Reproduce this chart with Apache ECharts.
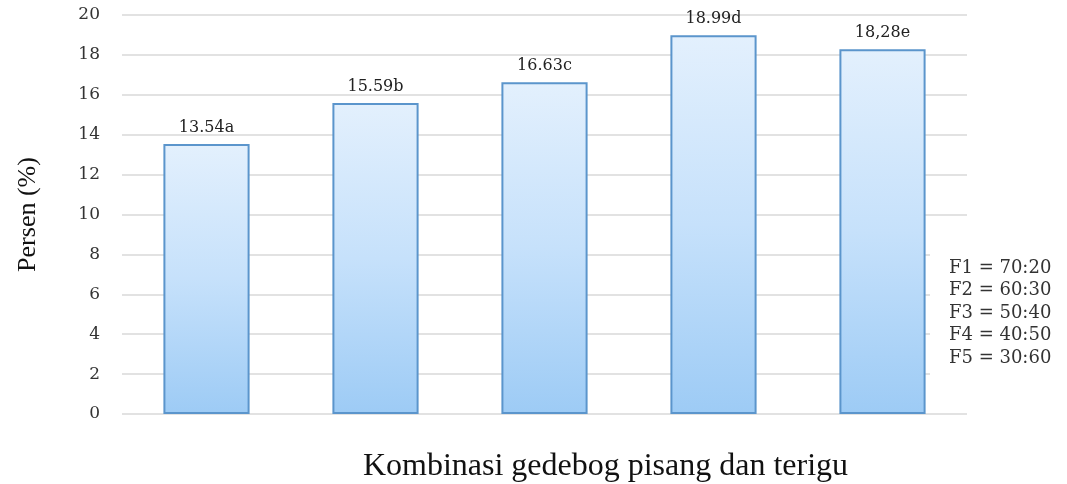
<!DOCTYPE html>
<html>
<head>
<meta charset="utf-8">
<script src="https://cdn.jsdelivr.net/npm/echarts@6/dist/echarts.min.js"></script>
<style>
  html, body { margin: 0; padding: 0; background: #ffffff; }
  #chart { width: 1067px; height: 484px; }
</style>
</head>
<body>
<div id="chart"></div>
<script>
// Formula codes (F1..F5) and measured percentages
const categories = ['F1', 'F2', 'F3', 'F4', 'F5'];
const values = [13.54, 15.59, 16.63, 18.99, 18.28];
const valueLabels = ['13.54a', '15.59b', '16.63c', '18.99d', '18,28e'];
const legendLines = ['F1 = 70:20', 'F2 = 60:30', 'F3 = 50:40', 'F4 = 40:50', 'F5 = 30:60'];
const yTicks = { min: 0, max: 20, interval: 2 };

const serif = '"DejaVu Serif", "Liberation Serif", serif';
const titleSerif = '"Liberation Serif", "DejaVu Serif", serif';

const chart = echarts.init(document.getElementById('chart'));
chart.setOption({
  animation: false,
  backgroundColor: '#ffffff',
  grid: { left: 122, right: 100, top: 15, bottom: 70, containLabel: false, outerBoundsMode: 'none' },
  xAxis: {
    type: 'category',
    data: categories,
    axisLine: { show: false },
    axisTick: { show: false },
    axisLabel: { show: false },
    name: 'Kombinasi gedebog pisang dan terigu',
    nameLocation: 'middle',
    nameGap: 37,
    nameTextStyle: { fontFamily: titleSerif, fontSize: 32, color: '#111', padding: [0, 0, 0, 122] }
  },
  yAxis: {
    type: 'value',
    min: yTicks.min,
    max: yTicks.max,
    interval: yTicks.interval,
    axisLine: { show: false },
    axisTick: { show: false },
    axisLabel: { fontFamily: serif, fontSize: 17, color: '#333', margin: 22 },
    splitLine: { lineStyle: { color: '#d9d9d9', width: 1.5 } },
    name: 'Persen (%)',
    nameLocation: 'middle',
    nameRotate: 90,
    nameGap: 81,
    nameTextStyle: { fontFamily: titleSerif, fontSize: 26, color: '#111' }
  },
  series: [{
    type: 'bar',
    data: values,
    barWidth: '51%',
    itemStyle: {
      color: new echarts.graphic.LinearGradient(0, 0, 0, 1, [
        { offset: 0, color: '#e3f0fd' },
        { offset: 0.5, color: '#c6e1fb' },
        { offset: 1, color: '#9dcbf5' }
      ]),
      borderColor: '#5b95cc',
      borderWidth: 2
    },
    label: {
      show: true,
      position: 'top',
      distance: 8,
      fontFamily: serif,
      fontSize: 16,
      color: '#222',
      formatter: p => valueLabels[p.dataIndex]
    }
  }],
  graphic: [
    // white panel behind the formula key, hiding the grid lines there
    {
      type: 'rect',
      left: 930,
      top: 246,
      z: 10,
      shape: { width: 137, height: 138 },
      style: { fill: '#ffffff' }
    }
  ].concat(legendLines.map((t, i) => ({
    type: 'text',
    left: 949,
    top: 259 + i * 22.5,
    z: 11,
    style: { text: t, fontFamily: serif, fontSize: 18, fill: '#333' }
  })))
});
</script>
</body>
</html>
